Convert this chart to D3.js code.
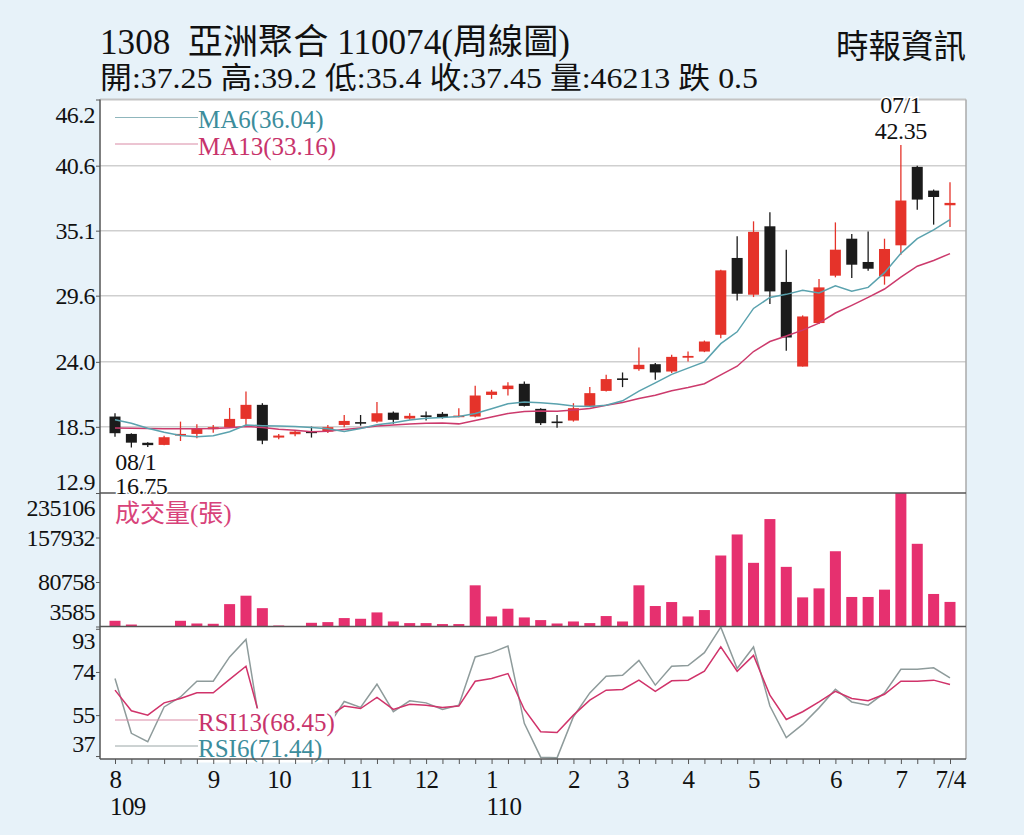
<!DOCTYPE html>
<html>
<head>
<meta charset="utf-8">
<script src="https://cdn.jsdelivr.net/npm/d3@7"></script>
<style>
  body { margin: 0; background: #e7f2f9; }
  svg { display: block; }
  text { font-family: 'Liberation Serif', 'Noto Sans CJK TC', serif; }
</style>
</head>
<body>
<svg id="chart" width="1024" height="835"></svg>
<script>
// weekly candles, 109/08 .. 110/07
const open  = [19.37,17.90,17.15,16.97,17.76,17.90,18.30,18.47,19.17,20.36,17.59,17.87,18.10,18.10,18.66,18.90,18.94,19.70,19.20,19.47,19.60,19.35,19.37,21.20,21.69,22.14,20.02,18.95,19.03,20.27,21.54,22.60,23.38,23.80,23.18,24.35,24.87,26.29,32.79,29.68,35.47,30.76,23.60,27.28,31.29,34.42,32.45,31.23,33.86,40.50,38.49,37.25];
const high  = [19.65,17.95,17.20,17.75,18.94,18.72,18.65,20.10,21.48,20.50,17.90,18.20,18.52,18.65,19.50,19.50,20.60,19.80,19.65,19.79,19.75,20.08,21.97,21.63,22.28,22.33,20.08,19.50,20.50,21.86,22.90,23.10,25.21,23.90,24.60,24.87,25.80,31.80,34.62,35.89,36.65,33.49,27.93,31.00,35.80,34.82,35.04,34.42,42.35,40.60,38.58,39.20];
const low   = [17.67,16.75,16.80,16.95,17.30,17.54,18.00,18.40,18.52,17.03,17.45,17.70,17.59,17.97,18.47,18.60,18.85,18.75,19.09,19.03,19.20,19.30,19.30,20.87,21.15,20.21,18.66,18.43,18.94,20.21,21.48,21.86,23.24,22.48,23.05,24.03,24.82,26.00,29.20,29.48,28.89,24.93,23.60,27.20,31.15,31.10,31.70,30.53,33.07,36.88,35.61,35.40];
const close = [17.96,17.16,16.95,17.62,17.90,18.38,18.47,19.17,20.36,17.33,17.76,18.09,18.00,18.47,19.00,18.80,19.65,19.09,19.43,19.38,19.30,19.45,21.15,21.48,21.99,20.27,18.81,18.90,20.08,21.35,22.54,22.50,23.75,23.10,24.42,24.50,25.72,31.74,29.76,35.00,29.96,26.06,27.84,30.30,33.49,32.22,31.88,33.55,37.65,37.73,37.95,37.45];
const ma6   = [19.09,18.80,18.38,18.04,17.76,17.66,17.75,18.08,18.65,18.60,18.58,18.53,18.45,18.34,18.11,18.35,18.67,18.84,19.07,19.23,19.28,19.38,19.63,20.03,20.46,20.61,20.53,20.43,20.26,20.23,20.33,20.70,21.52,22.22,22.94,23.47,24.00,25.54,26.54,28.52,29.45,29.71,30.06,29.82,30.44,29.98,30.30,31.55,33.18,34.42,35.16,36.04];
const ma13  = [18.40,18.38,18.36,18.34,18.33,18.33,18.35,18.42,18.52,18.45,18.30,18.20,18.09,18.13,18.27,18.41,18.57,18.66,18.74,18.81,18.82,18.75,19.04,19.33,19.63,19.80,19.83,19.82,19.92,20.05,20.32,20.55,20.89,21.18,21.56,21.82,22.15,22.90,23.63,24.87,25.72,26.18,26.68,27.28,28.13,28.78,29.45,30.16,31.17,32.09,32.57,33.16];
const vol   = [13500,7000,3585,3700,13500,8800,8300,42400,57000,35400,5300,3900,10000,11200,18200,17000,28000,12300,9500,9500,7800,7800,75000,21000,34400,19300,14700,8800,12300,9500,21700,12300,75000,39100,46000,21000,32100,126700,163200,114000,189900,107000,54100,69700,134100,54800,54800,67500,235106,147000,60000,46213];
const rsi6  = [71.1,47.0,43.3,58.6,63.0,69.9,69.9,80.6,88.3,44.0,47.0,52.0,50.0,50.0,61.0,58.4,68.6,56.5,61.3,60.4,57.5,59.4,80.6,82.5,85.4,51.4,36.5,36.2,54.3,64.8,72.1,72.5,79.1,68.2,76.5,76.8,82.5,93.7,75.5,85.0,59.0,45.1,50.9,58.2,66.4,60.8,59.4,64.8,75.2,75.2,75.8,71.44];
const rsi13 = [66.0,56.9,55.0,60.4,62.3,64.8,64.8,70.7,76.5,50.0,51.0,53.0,52.0,54.0,59.0,57.9,62.8,57.5,59.8,59.4,58.4,59.0,69.9,71.1,73.3,57.5,47.7,47.4,55.0,61.6,66.0,66.3,70.4,65.5,70.1,70.4,74.3,85.0,74.3,81.3,63.8,53.1,56.5,60.8,65.5,62.3,61.3,64.2,69.9,69.9,70.4,68.45];

const priceTicks = [12.9, 18.5, 24.0, 29.6, 35.1, 40.6, 46.2];
const volTicks = [3585, 80758, 157932, 235106];
const rsiTicks = [37, 55, 74, 93];
const monthWeeks = [0, 6, 10, 15, 19, 23, 28, 31, 35, 39, 44, 48, 51];
const monthLabels = ['8', '9', '10', '11', '12', '1', '2', '3', '4', '5', '6', '7', '7/4'];
const yearWeeks = [0, 23];
const yearLabels = ['109', '110'];
const lowDate = '08/1', highDate = '07/1';
const title = '1308  亞洲聚合 110074(周線圖)';
const source = '時報資訊';

const RED = '#e5332a', BLACK = '#1b1b1b';
const L = 100, R = 966, pTop = 99.5, pBot = 493, vBot = 626.5, rBot = 759;

const svg = d3.select('#chart');
svg.append('rect').attr('width', 1024).attr('height', 835).attr('fill', '#e7f2f9');
svg.append('rect').attr('x', L).attr('y', pTop).attr('width', R - L).attr('height', rBot - pTop).attr('fill', '#fff');

const n = close.length;
const last = n - 1;
const x = d3.scalePoint().domain(d3.range(n)).range([115, 950]);
const yP = d3.scaleLinear().domain([12.9, 46.2]).range([pBot, pTop]);
const yV = d3.scaleLinear().domain([3585, 235106]).range([vBot, pBot]);
const yR = d3.scaleLinear().domain([35.7, 94]).range([rBot, vBot]);

// header
svg.append('text').attr('x', 100).attr('y', 54).attr('font-size', 35)
    .attr('textLength', 470).attr('lengthAdjust', 'spacingAndGlyphs')
    .style('white-space', 'pre').attr('fill', '#111').text(title);
svg.append('text').attr('x', 100).attr('y', 88).attr('font-size', 30)
    .attr('textLength', 658).attr('lengthAdjust', 'spacingAndGlyphs')
    .attr('fill', '#111')
    .text(`開:${open[last]} 高:${high[last]} 低:${low[last]} 收:${close[last]} 量:${vol[last]} 跌 ${(close[last - 1] - close[last]).toFixed(1)}`);
svg.append('text').attr('x', 966).attr('y', 58).attr('font-size', 32.5)
    .attr('text-anchor', 'end').attr('fill', '#111').text(source);

// price grid
svg.append('g').selectAll('line').data(priceTicks.slice(1, -1)).join('line')
    .attr('x1', L).attr('x2', R).attr('y1', d => yP(d)).attr('y2', d => yP(d))
    .attr('stroke', '#cfcfcf').attr('stroke-width', 1.5);

// y axes
function leftAxis(scale, ticks, fmt, topDy, botDy) {
    const g = svg.append('g').attr('transform', `translate(${L},0)`)
        .call(d3.axisLeft(scale).tickValues(ticks).tickSize(4).tickPadding(1).tickFormat(fmt));
    g.attr('font-size', 24).attr('font-family', null);
    g.select('.domain').remove();
    g.selectAll('.tick line').attr('stroke', '#555');
    g.selectAll('.tick text').attr('fill', '#111').attr('letter-spacing', -0.6)
        .attr('dy', d => d === ticks[ticks.length - 1] ? topDy : d === ticks[0] ? botDy : '0.32em');
}
leftAxis(yP, priceTicks, d3.format('.1f'), '0.97em', '-0.14em');
leftAxis(yV, volTicks, d3.format('d'), '0.95em', '-0.28em');
leftAxis(yR, rsiTicks, d3.format('d'), '0.83em', '-0.17em');

// candles
const bodyW = 11;
const color = i => close[i] >= open[i] ? RED : BLACK;
const candles = svg.append('g');
candles.selectAll('line').data(d3.range(n)).join('line')
    .attr('x1', i => x(i)).attr('x2', i => x(i))
    .attr('y1', i => yP(high[i])).attr('y2', i => yP(low[i]))
    .attr('stroke', color).attr('stroke-width', 1.3);
candles.selectAll('rect').data(d3.range(n)).join('rect')
    .attr('x', i => x(i) - bodyW / 2).attr('width', bodyW)
    .attr('y', i => yP(Math.max(open[i], close[i])))
    .attr('height', i => Math.max(1.6, Math.abs(yP(open[i]) - yP(close[i]))))
    .attr('fill', color);

// moving averages
const priceLine = d3.line().x((d, i) => x(i)).y(d => yP(d));
svg.append('path').attr('d', priceLine(ma13)).attr('fill', 'none').attr('stroke', '#cc3a6c').attr('stroke-width', 1.5);
svg.append('path').attr('d', priceLine(ma6)).attr('fill', 'none').attr('stroke', '#5aa2ae').attr('stroke-width', 1.5);

// volume
svg.append('g').selectAll('rect').data(vol).join('rect')
    .attr('x', (d, i) => x(i) - bodyW / 2).attr('width', bodyW)
    .attr('y', d => yV(d)).attr('height', d => vBot - yV(d))
    .attr('fill', '#e6306f');
svg.append('text').attr('x', 115).attr('y', 522).attr('font-size', 25)
    .attr('fill', '#d8437a').text('成交量(張)');

// RSI
const rsiLine = d3.line().x((d, i) => x(i)).y(d => yR(d));
svg.append('path').attr('d', rsiLine(rsi6)).attr('fill', 'none').attr('stroke', '#8e9b9b').attr('stroke-width', 1.5);
svg.append('path').attr('d', rsiLine(rsi13)).attr('fill', 'none').attr('stroke', '#d0336a').attr('stroke-width', 1.5);

// legends
function legend(y, label, lineColor, textColor) {
    svg.append('line').attr('x1', 115).attr('x2', 198).attr('y1', y).attr('y2', y)
        .attr('stroke', lineColor).attr('stroke-width', 1);
    const t = svg.append('text').attr('x', 198).attr('y', y + 10.5).attr('font-size', 25)
        .attr('fill', textColor).text(label);
    const b = t.node().getBBox();
    svg.insert('rect', () => t.node()).attr('x', b.x).attr('y', b.y)
        .attr('width', b.width).attr('height', b.height).attr('fill', '#fff');
}
legend(117.5, `MA6(${ma6[last].toFixed(2)})`, '#8fb6bc', '#3c8d9c');
legend(144, `MA13(${ma13[last].toFixed(2)})`, '#d98aa5', '#c8336b');
legend(720, `RSI13(${rsi13[last].toFixed(2)})`, '#d98aa5', '#c8336b');
legend(746, `RSI6(${rsi6[last].toFixed(2)})`, '#9aa6a6', '#3c8d9c');

// x axis
const monthAt = new Map(monthWeeks.map((w, k) => [w, monthLabels[k]]));
const xg = svg.append('g').attr('transform', `translate(0,${rBot})`)
    .call(d3.axisBottom(x).tickValues(d3.range(n)).tickSize(5).tickPadding(6)
        .tickFormat(i => monthAt.get(i) || ''));
xg.attr('font-size', 25).attr('font-family', null);
xg.select('.domain').remove();
xg.selectAll('.tick line').attr('stroke', '#555');
xg.selectAll('.tick text').attr('fill', '#111').attr('letter-spacing', -0.6);
svg.append('g').selectAll('text').data(yearWeeks).join('text')
    .attr('x', w => x(w) - 5).attr('y', 815).attr('font-size', 25)
    .attr('letter-spacing', -0.6).attr('fill', '#111')
    .text((w, k) => yearLabels[k]);

// frame
const frame = svg.append('g').attr('fill', 'none');
frame.append('line').attr('x1', L).attr('x2', R).attr('y1', pTop).attr('y2', pTop).attr('stroke', '#c4c4c4').attr('stroke-width', 2);
frame.append('line').attr('x1', R).attr('x2', R).attr('y1', pTop).attr('y2', rBot).attr('stroke', '#aaa').attr('stroke-width', 1.5);
[pBot, vBot, rBot].forEach(y => frame.append('line').attr('x1', L).attr('x2', R)
    .attr('y1', y).attr('y2', y).attr('stroke', '#555').attr('stroke-width', 1.5));
frame.append('line').attr('x1', L).attr('x2', L).attr('y1', pTop).attr('y2', rBot).attr('stroke', '#555').attr('stroke-width', 1.5);

// high / low notes
const lo = d3.minIndex(low), hi = d3.maxIndex(high);
function note(px, py, anchor, txt) {
    svg.append('text').attr('x', px).attr('y', py).attr('font-size', 24)
        .attr('text-anchor', anchor).attr('letter-spacing', -0.4).attr('fill', '#111')
        .attr('stroke', '#fff').attr('stroke-width', 3).attr('paint-order', 'stroke')
        .text(txt);
}
note(x(lo) - 16, 470, 'start', lowDate);
note(x(lo) - 16, 494, 'start', low[lo].toFixed(2));
note(x(hi), 113, 'middle', highDate);
note(x(hi), 139, 'middle', high[hi].toFixed(2));
</script>
</body>
</html>
